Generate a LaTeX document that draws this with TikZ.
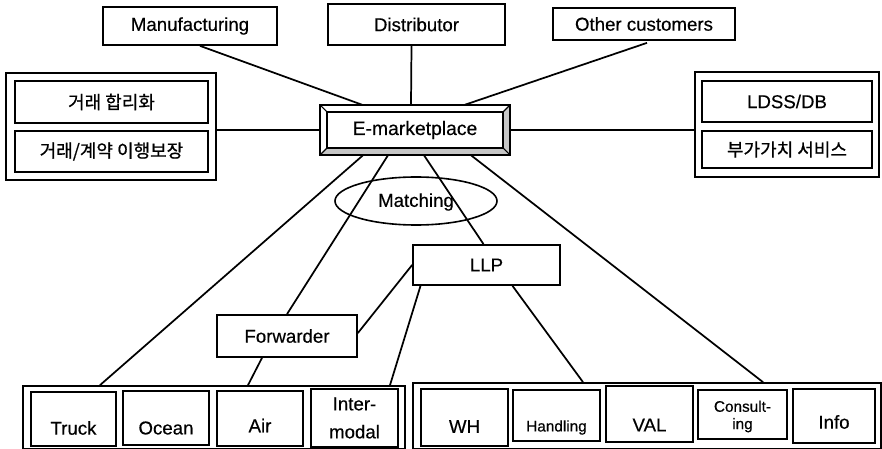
\documentclass[tikz,border=0pt]{standalone}
\usepackage{fontspec}
\setmainfont{Liberation Sans}[FakeBold=0.4]
\newfontfamily\krfont{Noto Sans CJK KR}[FakeBold=0.8]
\usetikzlibrary{fit,calc,shapes.geometric}

\tikzset{
  box/.style={draw, line width=1.3pt, inner sep=0pt, fill=white},
  grp/.style={draw, line width=1.3pt, inner sep=0pt},
  lbl/.style={font=\fontsize{14}{16}\selectfont, inner sep=0pt},
  lblsm/.style={font=\fontsize{11.5}{13}\selectfont, inner sep=0pt, align=center},
  krlbl/.style={font=\krfont\fontsize{13.5}{15}\selectfont, inner sep=0pt},
  link/.style={line width=1.3pt},
}

\begin{document}
\begin{tikzpicture}[x=0.75pt, y=-0.75pt]
\useasboundingbox (0,0) rectangle (882,449);
\clip (0,0) rectangle (882,449);
\fill[white] (0,0) rectangle (882,449);

% ---- customers along the top
\node[box, fit={(103,7) (277,45)}] (manu) {};
\node[lbl] at (manu.center) {Manufacturing};
\node[box, fit={(328,4) (505,45)}] (dist) {};
\node[lbl] at (dist.center) {Distributor};
\node[box, fit={(553,8) (735,40)}] (othr) {};
\node[lbl] at (othr.center) {Other customers};

% ---- left service group
\node[grp, fit={(6,73) (216,180)}] (lgrp) {};
\node[box, fit={(15,81) (208,123)}] (lr1) {};
\node[krlbl] at (lr1.center) {거래 합리화};
\node[box, fit={(15,131) (208,172)}] (lr2) {};
\node[krlbl] at (lr2.center) {거래/계약 이행보장};

% ---- right service group
\node[grp, fit={(695,72) (879,177)}] (rgrp) {};
\node[box, fit={(702,81) (872,122)}] (rr1) {};
\node[lbl] at (rr1.center) {LDSS/DB};
\node[box, fit={(702,131) (872,168)}] (rr2) {};
\node[krlbl] at (rr2.center) {부가가치 서비스};

% ---- central bevelled E-marketplace frame
\node[inner sep=0pt, fit={(320,105) (510,155)}] (emkt) {};
\fill[gray!45] (320,155) -- (327,148) -- (503,148) -- (510,155) -- cycle;
\fill[gray!45] (510,105) -- (503,112) -- (503,148) -- (510,155) -- cycle;
\draw[line width=1.3pt] (emkt.north west) rectangle (emkt.south east);
\draw[line width=1.1pt] (327,112) rectangle (503,148);
\draw[line width=0.8pt] (320,105) -- (327,112) (510,105) -- (503,112)
  (320,155) -- (327,148) (510,155) -- (503,148);
\node[lbl, font=\fontsize{14.5}{16}\selectfont] at (emkt.center) {E-marketplace};

% ---- matching, LLP and forwarder
\node[draw, line width=1.2pt, ellipse, minimum width=121.5pt, minimum height=36pt,
      inner sep=0pt] (match) at (416,201) {};
\node[lbl] at ($(match.center)+(0,1)$) {Matching};
\node[box, fit={(413,245) (560,285)}] (llp) {};
\node[lbl] at (llp.center) {LLP};
\node[box, fit={(217,315) (357,357)}] (fwd) {};
\node[lbl] at (fwd.center) {Forwarder};

% ---- transport modes (bottom left)
\node[grp, fit={(23,386) (405,448.5)}] (lbot) {};
\node[box, fit={(31,392) (116,446)}] (truck) {};
\node[lbl] at ($(truck.center)+(0,9)$) {Truck};
\node[box, fit={(123,391) (209,445)}] (ocean) {};
\node[lbl] at ($(ocean.center)+(0,10)$) {Ocean};
\node[box, fit={(217,391) (303,446)}] (air) {};
\node[lbl] at ($(air.center)+(0,7)$) {Air};
\node[box, fit={(311,389) (398,447)}] (inter) {};
\node[lbl, align=center, font=\fontsize{14}{21}\selectfont] at (inter.center) {Inter-\\modal};

% ---- logistics services (bottom right)
\node[grp, fit={(413,383) (881,448.5)}] (rbot) {};
\node[box, fit={(421,389) (508,446)}] (wh) {};
\node[lbl] at ($(wh.center)+(0,9)$) {WH};
\node[box, fit={(513,390) (600,441)}] (hand) {};
\node[lblsm] at ($(hand.center)+(0,12)$) {Handling};
\node[box, fit={(606,386) (693,442)}] (val) {};
\node[lbl] at ($(val.center)+(0,11)$) {VAL};
\node[box, fit={(698,390) (787,439)}] (cons) {};
\node[lblsm, font=\fontsize{11.5}{13}\selectfont] at ($(cons.center)+(0,2)$) {Consult-\\ing};
\node[box, fit={(793,389) (875,443)}] (info) {};
\node[lbl] at ($(info.center)+(0,6)$) {Info};

% ---- connectors
\draw[link] ($(manu.south)+(10,0)$) -- ($(emkt.north)+(-53,0)$);
\draw[link] ($(dist.south)+(-5,0)$) -- ($(emkt.north)+(-4,0)$);
\draw[link] ($(othr.south)+(3,2)$) -- ($(emkt.north)+(50,0)$);
\draw[link] (emkt.west) -- (emkt.west -| lgrp.east);
\draw[link] (emkt.east) -- (emkt.east -| rgrp.west);

\draw[link] ($(emkt.south)+(-52,0)$) -- ($(lbot.north)+(-114,0)$);
\draw[link] ($(emkt.south)+(-27,0)$) -- (fwd.north);
\draw[link] ($(emkt.south)+(9,0)$) -- ($(llp.north)+(-3,0)$);
\draw[link] ($(emkt.south)+(56,0)$) -- ($(rbot.north)+(116,0)$);

\draw[link] (llp.west) -- ($(fwd.east)+(0,-3)$);
\draw[link] ($(llp.south)+(-66,0)$) -- ($(lbot.north)+(176,0)$);
\draw[link] ($(llp.south)+(26,0)$) -- ($(rbot.north)+(-64,0)$);
\draw[link] ($(fwd.south)+(-25,0)$) -- ($(lbot.north)+(34,0)$);
\end{tikzpicture}
\end{document}
